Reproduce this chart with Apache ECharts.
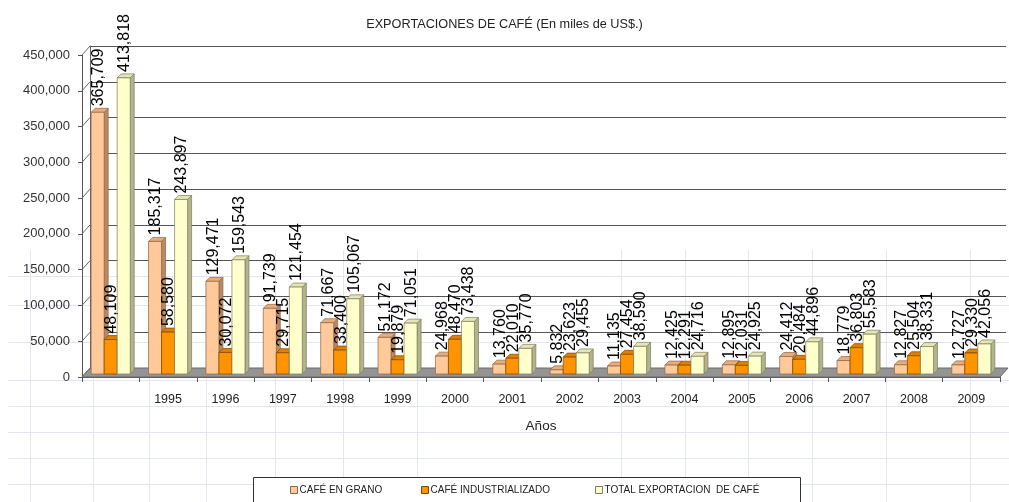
<!DOCTYPE html>
<html lang="es">
<head>
    <meta charset="UTF-8">
    <script type="text/javascript" src="https://cdn.jsdelivr.net/npm/echarts@6/dist/echarts.min.js"></script>
    <title>Exportaciones de café</title>
    <style type="text/css">
        body { margin: 0; background: #fff; }
        #chart { width: 1009px; height: 502px; }
    </style>
</head>
<body>
<div id="chart"></div>
<script type="text/javascript">
    // datos
    const anios = ['', '1995', '1996', '1997', '1998', '1999', '2000', '2001', '2002', '2003', '2004', '2005', '2006', '2007', '2008', '2009'];
    const cafeGrano = [365709, 185317, 129471, 91739, 71667, 51172, 24968, 13760, 5832, 11135, 12425, 12895, 24412, 18779, 12827, 12727];
    const cafeIndustrializado = [48109, 58580, 30072, 29715, 33400, 19879, 48470, 22010, 23623, 27454, 12291, 12031, 20484, 36803, 25504, 29330];
    const totalExportacion = [413818, 243897, 159543, 121454, 105067, 71051, 73438, 35770, 29455, 38590, 24716, 24925, 44896, 55583, 38331, 42056];
    const ticksY = [0, 50000, 100000, 150000, 200000, 250000, 300000, 350000, 400000, 450000];

    const arial = '"Liberation Sans", Arial, sans-serif';

    let chart = echarts.init(document.getElementById('chart'));

    function fmt(v) {
        return v.toLocaleString('en-US');
    }

    // barra con cara frontal, tapa y lateral (efecto 3D de Excel)
    function barra3d(slot, col) {
        return function (params, api) {
            let idx = api.value(0);
            let val = api.value(1);
            let base = api.coord([idx, 0]);
            let top = api.coord([idx, val]);
            let band = api.size([1, 0])[0];
            let w = band * 13 / 57.3;
            let d = 4;
            let x0 = base[0] - 1.5 * w + slot * w;
            let y0 = base[1] - 3;
            let y1 = top[1] - 3;
            return {
                type: 'group',
                children: [
                    {
                        type: 'polygon',
                        shape: {points: [[x0 + w, y1], [x0 + w + d, y1 - d], [x0 + w + d, y0 - d], [x0 + w, y0]]},
                        style: {fill: col.side, stroke: col.line, lineWidth: 0.7}
                    },
                    {
                        type: 'polygon',
                        shape: {points: [[x0, y1], [x0 + w, y1], [x0 + w + d, y1 - d], [x0 + d, y1 - d]]},
                        style: {fill: col.top, stroke: col.line, lineWidth: 0.7}
                    },
                    {
                        type: 'rect',
                        shape: {x: x0, y: y1, width: w, height: y0 - y1},
                        style: {fill: col.front, stroke: col.line, lineWidth: 0.7}
                    },
                    {
                        type: 'text',
                        x: x0 + w / 2 + 1,
                        y: y1 - 6,
                        rotation: Math.PI / 2,
                        z2: 100,
                        style: {
                            text: fmt(val),
                            fill: '#000',
                            font: '16px ' + arial,
                            align: 'left',
                            verticalAlign: 'middle'
                        }
                    }
                ]
            };
        };
    }

    const colGrano = {front: '#ffc999', top: '#e9ad7c', side: '#b98a63', line: '#8a6446'};
    const colInd = {front: '#ff9300', top: '#e07f00', side: '#a86000', line: '#7a4700'};
    const colTotal = {front: '#ffffcc', top: '#e4e4b4', side: '#b3b38c', line: '#7d7d60'};

    function serieBarra(nombre, valores, slot, col) {
        return {
            name: nombre,
            type: 'custom',
            xAxisIndex: 0,
            yAxisIndex: 0,
            itemStyle: {color: col.front, borderColor: col.line},
            renderItem: barra3d(slot, col),
            data: valores.map((v, i) => [i, v]),
            z: 5
        };
    }

    // lineas de celdas de la hoja de calculo, de fondo
    const celdasX = [30, 93, 149, 206, 275, 343, 417, 621, 685, 748, 812, 886, 970];
    const celdasY = [276, 305, 342, 380, 406, 432, 458, 484];
    let fondo = [];
    celdasX.forEach(x => fondo.push({
        type: 'line', z: -10, silent: true,
        shape: {x1: x + 0.5, y1: 250, x2: x + 0.5, y2: 502},
        style: {stroke: '#e1e6f0', lineWidth: 1}
    }));
    celdasY.forEach(y => fondo.push({
        type: 'line', z: -10, silent: true,
        shape: {x1: 8, y1: y + 0.5, x2: 1009, y2: y + 0.5},
        style: {stroke: '#e1e6f0', lineWidth: 1}
    }));

    let option = {
        backgroundColor: '#fff',
        animation: false,
        title: {
            text: 'EXPORTACIONES DE CAFÉ (En miles de US$.)',
            left: 'center',
            top: 13,
            textStyle: {fontSize: 12.7, fontWeight: 'normal', color: '#222', fontFamily: arial}
        },
        legend: [
            {left: 290, data: ['CAFÉ EN GRANO']},
            {left: 421, data: ['CAFÉ INDUSTRIALIZADO']},
            {left: 595, data: ['TOTAL EXPORTACION  DE CAFÉ']}
        ].map(l => Object.assign(l, {
            top: 485,
            padding: 0,
            icon: 'rect',
            itemWidth: 7,
            itemHeight: 7,
            itemGap: 2,
            itemStyle: {borderWidth: 1},
            textStyle: {fontSize: 10, color: '#222', fontFamily: arial, padding: [0, 0, 0, -3]}
        })),
        grid: [
            {left: 82, right: 9, top: 55, bottom: 125},
            {left: 90, right: 3, top: 46, bottom: 134}
        ],
        xAxis: [
            {
                type: 'category',
                gridIndex: 0,
                data: anios,
                name: 'Años',
                nameLocation: 'middle',
                nameGap: 42,
                nameTextStyle: {fontSize: 13.5, color: '#222', fontFamily: arial},
                axisLine: {lineStyle: {color: '#555'}},
                axisTick: {show: true, length: 5, lineStyle: {color: '#555'}},
                axisLabel: {interval: 0, margin: 16, fontSize: 12.5, color: '#222', fontFamily: arial},
                splitLine: {show: false}
            },
            {
                type: 'category',
                gridIndex: 1,
                data: anios,
                show: false
            }
        ],
        yAxis: [
            {
                type: 'value',
                gridIndex: 0,
                min: 0,
                max: 450000,
                interval: 50000,
                axisLine: {show: true, lineStyle: {color: '#555'}},
                axisTick: {show: true, length: 4, lineStyle: {color: '#555'}},
                axisLabel: {fontSize: 13, color: '#333', fontFamily: arial, margin: 12, formatter: v => fmt(v)},
                splitLine: {show: false}
            },
            {
                type: 'value',
                gridIndex: 1,
                min: 0,
                max: 450000,
                interval: 50000,
                axisLine: {show: true, lineStyle: {color: '#666'}},
                axisTick: {show: false},
                axisLabel: {show: false},
                splitLine: {show: true, lineStyle: {color: '#555', width: 1}}
            }
        ],
        series: [
            {
                // diagonales entre eje frontal y pared del fondo
                type: 'custom',
                xAxisIndex: 0,
                yAxisIndex: 0,
                silent: true,
                z: 1,
                renderItem: function (params, api) {
                    let y = api.coord([0, api.value(0)])[1];
                    let x = params.coordSys.x;
                    return {
                        type: 'line',
                        shape: {x1: x, y1: y, x2: x + 8, y2: y - 9},
                        style: {stroke: '#666', lineWidth: 1}
                    };
                },
                data: ticksY.map(v => [v])
            },
            {
                // piso gris
                type: 'custom',
                xAxisIndex: 0,
                yAxisIndex: 0,
                silent: true,
                z: 2,
                renderItem: function (params, api) {
                    let cs = params.coordSys;
                    let y = api.coord([0, 0])[1];
                    let x = cs.x;
                    let x2 = cs.x + cs.width;
                    return {
                        type: 'polygon',
                        shape: {points: [[x, y], [x2, y], [x2 + 8, y - 9], [x + 8, y - 9]]},
                        style: {fill: '#949494', stroke: '#6a6a6a', lineWidth: 1}
                    };
                },
                data: [[0]]
            },
            serieBarra('CAFÉ EN GRANO', cafeGrano, 0, colGrano),
            serieBarra('CAFÉ INDUSTRIALIZADO', cafeIndustrializado, 1, colInd),
            serieBarra('TOTAL EXPORTACION  DE CAFÉ', totalExportacion, 2, colTotal)
        ],
        graphic: fondo.concat([
            {
                type: 'rect',
                left: 253,
                top: 477,
                z: 0,
                shape: {width: 547, height: 30},
                style: {fill: '#fff', stroke: '#333', lineWidth: 1}
            }
        ])
    };
    chart.setOption(option);
</script>
</body>
</html>
